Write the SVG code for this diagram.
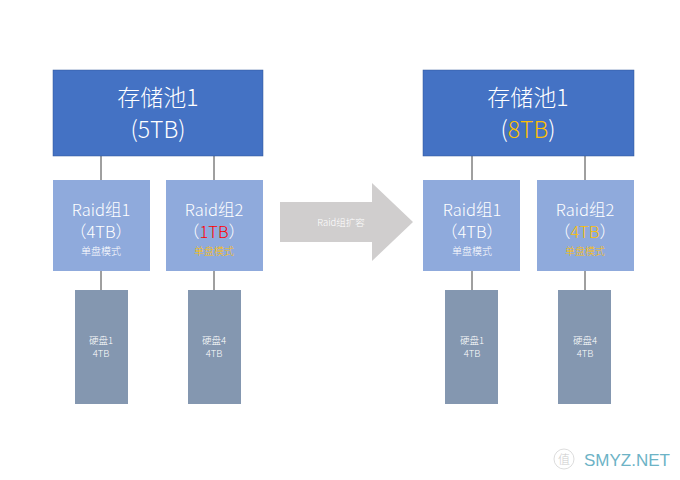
<svg xmlns="http://www.w3.org/2000/svg" width="680" height="480" viewBox="0 0 680 480">
<style>
text{font-family:"Noto Sans CJK SC","Noto Sans",sans-serif;text-anchor:middle;fill:#fff;font-weight:300}
.pool{fill:#4472C4;stroke:#2F5597;stroke-width:0.5}
.raid{fill:#8FAADC}
.disk{fill:#8497B0}
.big{font-size:23px}
.mid{font-size:16.5px}
.sm{font-size:10px}
.ds{font-size:9.5px}
.y{fill:#FFC000}
.r{fill:#FF0000}
.c line{stroke:#404040;stroke-width:1}
</style>
<rect width="680" height="480" fill="#fff"/>
<g class="c" id="connectors">
<line x1="101" y1="156" x2="101" y2="180"/>
<line x1="214" y1="156" x2="214" y2="180"/>
<line x1="101" y1="271" x2="101" y2="290"/>
<line x1="214" y1="271" x2="214" y2="290"/>
<line x1="472" y1="156" x2="472" y2="180"/>
<line x1="585" y1="156" x2="585" y2="180"/>
<line x1="472" y1="271" x2="472" y2="290"/>
<line x1="585" y1="271" x2="585" y2="290"/>
</g>
<g id="pool-left">
<rect class="pool" x="53" y="70" width="210" height="86"/>
<text class="big" x="158" y="106">存储池1</text>
<text class="big" x="158" y="138">(5TB)</text>
</g>
<g id="raid1-left">
<rect class="raid" x="53" y="180" width="97" height="91"/>
<text class="mid" x="101" y="215.5">Raid组1</text>
<text class="mid" x="101" y="238">（4TB）</text>
<text class="sm" x="101" y="254.5">单盘模式</text>
</g>
<g id="raid2-left">
<rect class="raid" x="166" y="180" width="97" height="91"/>
<text class="mid" x="214" y="215.5">Raid组2</text>
<text class="mid" x="214" y="238">（<tspan class="r">1TB</tspan>）</text>
<text class="sm y" x="214" y="254.5">单盘模式</text>
</g>
<g id="disk1-left">
<rect class="disk" x="75" y="290" width="53" height="114"/>
<text class="ds" x="101" y="344">硬盘1</text>
<text class="ds" x="101" y="357">4TB</text>
</g>
<g id="disk4-left">
<rect class="disk" x="188" y="290" width="53" height="114"/>
<text class="ds" x="214" y="344">硬盘4</text>
<text class="ds" x="214" y="357">4TB</text>
</g>
<g id="arrow">
<polygon points="280,202 372,202 372,183 413,222 372,261 372,242 280,242" fill="#D0CECE"/>
<text x="341" y="226" style="font-size:9.5px">Raid组扩容</text>
</g>
<g id="pool-right">
<rect class="pool" x="423" y="70" width="211" height="86"/>
<text class="big" x="528" y="106">存储池1</text>
<text class="big" x="528" y="138">(<tspan class="y">8TB</tspan>)</text>
</g>
<g id="raid1-right">
<rect class="raid" x="423" y="180" width="97" height="91"/>
<text class="mid" x="472" y="215.5">Raid组1</text>
<text class="mid" x="472" y="238">（4TB）</text>
<text class="sm" x="472" y="254.5">单盘模式</text>
</g>
<g id="raid2-right">
<rect class="raid" x="537" y="180" width="97" height="91"/>
<text class="mid" x="585" y="215.5">Raid组2</text>
<text class="mid" x="585" y="238">（<tspan class="y">4TB</tspan>）</text>
<text class="sm y" x="585" y="254.5">单盘模式</text>
</g>
<g id="disk1-right">
<rect class="disk" x="445" y="290" width="53" height="114"/>
<text class="ds" x="472" y="344">硬盘1</text>
<text class="ds" x="472" y="357">4TB</text>
</g>
<g id="disk4-right">
<rect class="disk" x="558" y="290" width="53" height="114"/>
<text class="ds" x="585" y="344">硬盘4</text>
<text class="ds" x="585" y="357">4TB</text>
</g>
<g id="watermark">
<circle cx="564" cy="459" r="10" fill="none" stroke="#ddd" stroke-width="1"/>
<text x="564" y="464" style="font-size:12px;fill:#ccc">值</text>
<text x="627" y="466" style="font-size:17px;fill:#6DB3C6;font-family:'Liberation Sans',sans-serif;font-weight:400">SMYZ.NET</text>
</g>
</svg>
